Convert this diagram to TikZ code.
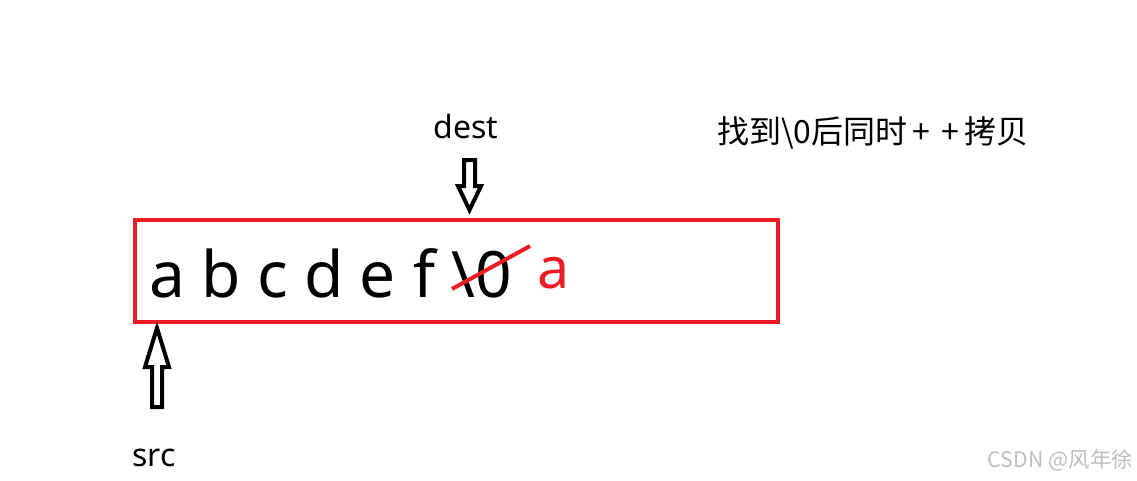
\documentclass[tikz,border=0pt]{standalone}
\usepackage{fontspec}
\setmainfont{Noto Sans}
\newfontfamily\cjk{Noto Sans CJK SC}
\definecolor{boxred}{RGB}{237,28,36}
\definecolor{markgray}{RGB}{190,190,190}
\tikzset{
  letter/.style={font=\fontsize{48}{56}\selectfont, inner sep=0pt, anchor=base},
  label text/.style={font=\fontsize{24}{28}\selectfont, inner sep=0pt, anchor=base},
  hollow arrow/.style={draw=black, line width=3pt, line join=miter},
}

\begin{document}
\begin{tikzpicture}[x=0.75pt,y=0.75pt,yscale=-1,xscale=1]
\path[use as bounding box] (0,0) rectangle (1137,480);

%Shape: Rectangle
\draw [color=boxred, line width=3pt] (135,220) rectangle (778,322);

% Text Node
\node [letter] (ca) at (167,297) {a};
% Text Node
\node [letter] (cb) at (221,297) {b};
% Text Node
\node [letter] (cc) at (273,297) {c};
% Text Node
\node [letter] (cd) at (324,297) {d};
% Text Node
\node [letter] (ce) at (378,297) {e};
% Text Node
\node [letter] (cf) at (425,297) {f};
% Text Node
\node [letter] (nul) at (482,297) {\textbackslash 0};
% Text Node
\node [letter, text=boxred, font=\fontsize{43}{50}\selectfont] (cnew) at (554,288) {a};

%Straight Lines
\draw [color=boxred, line width=3pt] (452,289) -- (530,246);

%Shape: Block Arrow (dest)
\draw [hollow arrow] (464,160) -- (475,160) -- (475,186) -- (481,186) -- (469.5,210) -- (458,186) -- (464,186) -- cycle;
%Shape: Block Arrow (src)
\draw [hollow arrow] (157,328) -- (169,367) -- (162,367) -- (162,407) -- (152,407) -- (152,367) -- (145,367) -- cycle;

% Text Node
\node [label text] (dest) at (466,138) {dest};
% Text Node
\node [label text] (src) at (154,466) {src};
% Text Node
\node [font=\cjk\fontsize{24}{28}\selectfont, inner sep=0pt, anchor=west] (note) at (717,133) {找到\textbackslash 0后同时\,+\,\,+\,拷贝};
% Text Node
\node [font=\cjk\fontsize{16}{19}\selectfont, text=markgray, inner sep=0pt, anchor=east] (mark) at (1133,460) {CSDN @风年徐};

\end{tikzpicture}
\end{document}
